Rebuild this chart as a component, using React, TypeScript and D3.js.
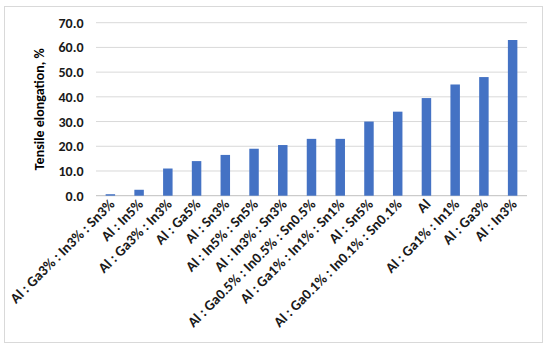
import React from "react";
import { scaleBand, scaleLinear } from "d3";

const categories = [
  "Al : Ga3% : In3% : Sn3%",
  "Al : In5%",
  "Al : Ga3% : In3%",
  "Al : Ga5%",
  "Al : Sn3%",
  "Al : In5% : Sn5%",
  "Al : In3% : Sn3%",
  "Al : Ga0.5% : In0.5% : Sn0.5%",
  "Al : Ga1% : In1% : Sn1%",
  "Al : Sn5%",
  "Al : Ga0.1% : In0.1% : Sn0.1%",
  "Al",
  "Al : Ga1% : In1%",
  "Al : Ga3%",
  "Al : In3%",
];
const elongation = [0.6, 2.4, 11, 14, 16.5, 19, 20.5, 23, 23, 30, 34, 39.5, 45, 48, 63];
const yTicks = [0, 10, 20, 30, 40, 50, 60, 70];

const W = 550;
const H = 349;
const font = "Carlito, Calibri, Lato, sans-serif";

export default function App() {
  const left = 96;
  const right = 527;
  const top = 22.7;
  const bottom = 195.7;

  const x = scaleBand<number>()
    .domain(categories.map((_, i) => i))
    .range([left, right])
    .paddingInner(0.67)
    .paddingOuter(0.335);

  const y = scaleLinear().domain([0, 70]).range([bottom, top]);

  return (
    <svg width={W} height={H} style={{ position: "absolute", left: 0, top: 0, background: "#fff" }}>
      <rect x={4.5} y={6.5} width={538} height={336} fill="#fff" stroke="#d9d9d9" />
      {/* gridlines */}
      {yTicks.map((t) => (
        <line key={t} x1={left} x2={right} y1={y(t)} y2={y(t)} stroke={t === 0 ? "#bfbfbf" : "#d9d9d9"} strokeWidth={1} />
      ))}
      {/* y tick labels */}
      {yTicks.map((t) => (
        <text key={"l" + t} x={83.5} y={y(t)} dy="0.36em" textAnchor="end" fontFamily={font} fontWeight="bold" fontSize={14} fill="#1a1a1a">
          {t.toFixed(1)}
        </text>
      ))}
      {/* bars */}
      {elongation.map((v, i) => (
        <rect key={i} x={x(i)} y={y(v)} width={x.bandwidth()} height={y(0) - y(v)} fill="#4472c4" />
      ))}
      {/* x labels */}
      {categories.map((c, i) => {
        const cx = (x(i) as number) + x.bandwidth() / 2 + 5;
        return (
          <text key={"c" + i} transform={`translate(${cx},${205}) rotate(-45)`} textAnchor="end" fontFamily={font} fontWeight="bold" fontSize={14.5} fill="#1a1a1a">
            {c}
          </text>
        );
      })}
      <text transform={`translate(44,${(top + bottom) / 2}) rotate(-90)`} textAnchor="middle" fontFamily={font} fontWeight="bold" fontSize={14} fill="#000">
        Tensile elongation, %
      </text>
    </svg>
  );
}
